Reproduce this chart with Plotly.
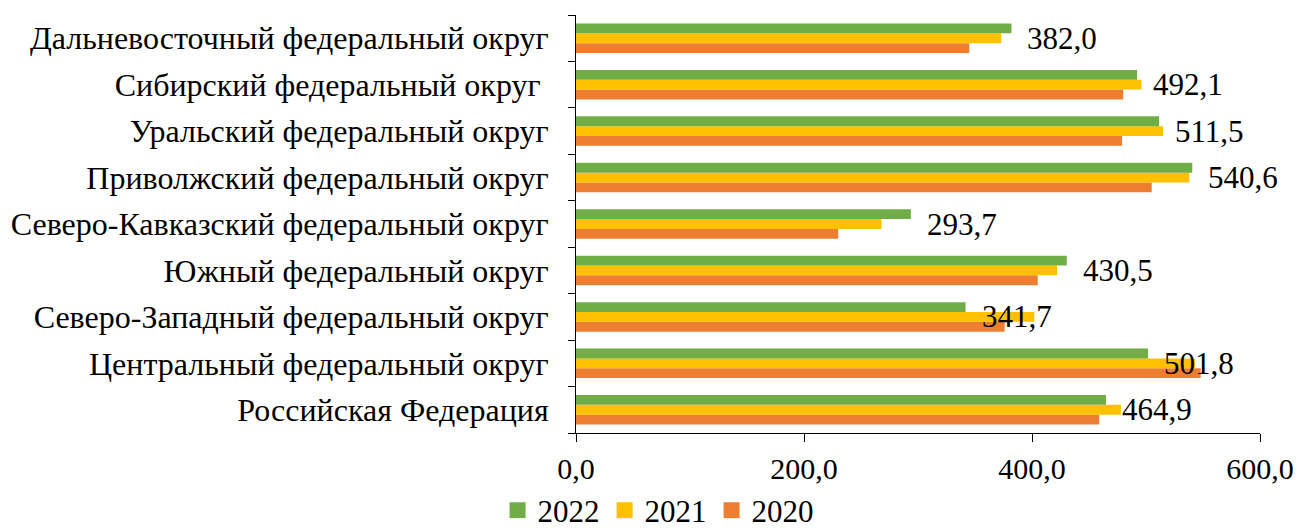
import plotly.graph_objects as go

# Federal districts, listed bottom-to-top as they appear on the axis
districts = [
    "Российская Федерация",
    "Центральный федеральный округ",
    "Северо-Западный федеральный округ",
    "Южный федеральный округ",
    "Северо-Кавказский федеральный округ",
    "Приволжский федеральный округ",
    "Уральский федеральный округ",
    "Сибирский федеральный округ\u00a0",
    "Дальневосточный федеральный округ",
]

values_2020 = [459.0, 548.0, 376.0, 405.0, 230.0, 505.0, 479.0, 480.0, 345.0]
values_2021 = [478.0, 543.0, 402.0, 422.0, 268.0, 538.0, 515.0, 496.0, 373.0]
values_2022 = [464.9, 501.8, 341.7, 430.5, 293.7, 540.6, 511.5, 492.1, 382.0]

x_tick_values = [0, 200, 400, 600]
x_tick_labels = ["0,0", "200,0", "400,0", "600,0"]

FONT = "'Liberation Serif'"

series = [
    ("2020", values_2020, "#ED7D31"),
    ("2021", values_2021, "#FFC000"),
    ("2022", values_2022, "#70AD47"),
]

fig = go.Figure()
# Bars: first trace sits lowest inside each group, so 2022 ends up on top
for name, vals, color in series:
    fig.add_trace(go.Bar(
        name=name, x=vals, y=districts, orientation="h",
        marker=dict(color=color, line=dict(width=0)),
        legendgroup=name, showlegend=False, hoverinfo="skip",
    ))

# Legend entries with larger square swatches, newest year first
for name, vals, color in reversed(series):
    fig.add_trace(go.Scatter(
        name=name, x=[None], y=[None], mode="markers",
        marker=dict(symbol="square", size=16, color=color, line=dict(width=0)),
        legendgroup=name, showlegend=True, hoverinfo="skip",
    ))

# Value labels for 2022, placed right of the green bar, level with group centre
for cat, v in zip(districts, values_2022):
    fig.add_annotation(
        x=v, y=cat, xref="x", yref="y",
        text=f"{v:.1f}".replace(".", ","),
        showarrow=False, xanchor="left", yanchor="middle", xshift=14,
        font=dict(family=FONT, size=31, color="black"),
    )

fig.update_layout(
    width=1300, height=530,
    margin=dict(l=576, r=40, t=15, b=97, autoexpand=False),
    paper_bgcolor="white", plot_bgcolor="white",
    barmode="group", bargap=0.365, bargroupgap=0,
    font=dict(family=FONT, color="black"),
    showlegend=True,
    legend=dict(
        orientation="h", traceorder="normal",
        x=0.12, xanchor="center", y=-0.25, yanchor="bottom",
        font=dict(family=FONT, size=31, color="black"),
        itemwidth=30, bgcolor="rgba(0,0,0,0)",
    ),
)

fig.update_xaxes(
    range=[0, 600], tickmode="array",
    tickvals=x_tick_values, ticktext=x_tick_labels,
    showgrid=False, zeroline=False,
    showline=True, linecolor="black", linewidth=1,
    ticks="outside", ticklen=8, tickcolor="black",
    tickfont=dict(family=FONT, size=30, color="black"),
    ticklabelstandoff=1,
)
fig.update_yaxes(
    showgrid=False, zeroline=False,
    showline=True, linecolor="black", linewidth=1,
    ticks="outside", ticklen=7, tickcolor="black", tickson="boundaries",
    tickfont=dict(family=FONT, size=32, color="black"),
    ticklabelstandoff=20,
)

fig.write_html("out.html")
